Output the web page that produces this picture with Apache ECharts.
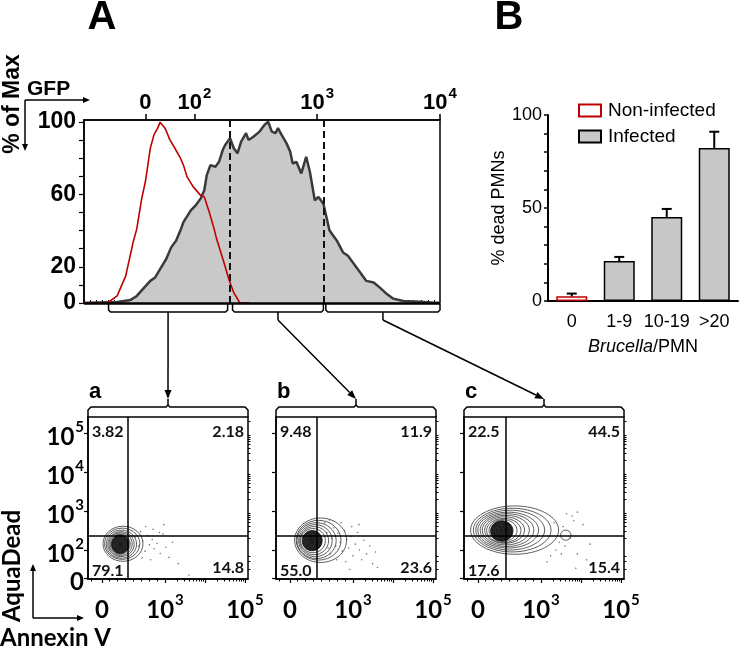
<!DOCTYPE html>
<html><head><meta charset="utf-8">
<script src="https://cdn.jsdelivr.net/npm/echarts@6/dist/echarts.min.js"></script>
<style>html,body{margin:0;padding:0;background:#fff}#c{width:744px;height:648px}</style>
</head><body><div id="c"></div>
<script>
// ================= DATA =================
// Panel A histogram: x in display decades (log10 GFP), y in % of max
const gfpNonInfected = [[1.12,0],[1.29,0],[1.37,3.9],[1.44,15],[1.50,33.5],[1.53,40.9],[1.57,57.6],[1.60,66.9],[1.64,85.4],[1.67,92.8],[1.70,96.5],[1.72,99.8],[1.76,96.5],[1.80,90],[1.84,85.4],[1.88,80.7],[1.91,76.1],[1.94,69.6],[1.99,64.1],[2.05,59.4],[2.08,58.5],[2.12,50.2],[2.16,40.9],[2.18,35.4],[2.24,22.4],[2.28,13.1],[2.32,5.7],[2.37,0],[2.45,0]];
const gfpInfected = [[1.10,0.2],[1.13,0.2],[1.37,0.6],[1.48,1.7],[1.53,3.9],[1.59,8.5],[1.64,12.2],[1.68,14.1],[1.72,18.7],[1.77,24.3],[1.81,30.7],[1.85,34.4],[1.89,40.9],[1.91,44.6],[1.97,51.1],[2.01,53.9],[2.05,57.6],[2.08,62.2],[2.10,70.6],[2.13,76.1],[2.17,75.2],[2.20,77.9],[2.23,84.4],[2.25,87.2],[2.29,90.9],[2.32,85.4],[2.35,82.6],[2.38,89.1],[2.42,93.7],[2.44,90.0],[2.48,91.8],[2.53,94.6],[2.57,98.3],[2.60,100],[2.63,94.6],[2.66,93.7],[2.68,96.5],[2.71,92.8],[2.75,88.1],[2.78,83.5],[2.80,77.0],[2.83,77.9],[2.87,71.5],[2.91,80.7],[2.94,72.4],[2.98,56.7],[3.01,58.5],[3.05,54.8],[3.10,40.0],[3.16,34.4],[3.21,27.9],[3.25,26.1],[3.29,22.4],[3.35,16.8],[3.40,12.2],[3.46,11.3],[3.51,8.5],[3.57,4.8],[3.62,2.4],[3.70,1.1],[3.84,0.7],[3.95,0.2],[4.0,0.1]];
const gfpGateLines = [2.29, 3.05];
const gfpGates = [[1.30, 2.27], [2.31, 3.05], [3.07, 4.0]];
const gfpTickValues = [1.6, 2, 3, 4];
const gfpTickLabels = ['0', '10^2', '10^3', '10^4'];
const pctLabelValues = [0, 20, 60, 100];
const pctTickValues = [0,10,20,30,40,50,60,70,80,90,100];

// Panel B bars
const barCategories = ['0', '1-9', '10-19', '>20'];
const nonInfectedDead = [2.5, '-', '-', '-'];
const infectedDead = ['-', 21.5, 45.2, 82.3];
const deadErrTop = [4.0, 23.7, 49.5, 91.0];
const deadLabelValues = [0, 50, 100];
const deadTickValues = [0,10,20,30,40,50,60,70,80,90,100];

// Contour panels (x: Annexin V decades, y: AquaDead decades)
const annexinTickValues = [1.425, 3, 5];
const annexinTickLabels = ['0', '10^3', '10^5'];
const aquaTickValues = [1.28, 2, 3, 4, 5];
const aquaTickLabels = ['0', '10^2', '10^3', '10^4', '10^5'];
const panelNames = ['a', 'b', 'c'];
const quadrantPct = [['3.82','2.18','79.1','14.8'], ['9.48','11.9','55.0','23.6'], ['22.5','44.5','17.6','15.4']];
const quadGateX = [2.075, 2.10, 2.125];
const quadGateY = [2.36, 2.36, 2.36];
// contour rings: [cx, cy, rx, ry, filled]
const contourA = [[1.95,2.16,0.50,0.45,0],[1.93,2.16,0.44,0.40,0],[1.91,2.15,0.38,0.36,0],[1.90,2.15,0.33,0.32,0],[1.89,2.15,0.29,0.29,0],[1.88,2.15,0.25,0.26,0],[1.88,2.15,0.22,0.24,1],[1.88,2.15,0.17,0.19,0],[1.88,2.15,0.12,0.14,0],[1.88,2.15,0.07,0.08,0]];
const contourB = [[2.19,2.25,0.65,0.57,0],[2.14,2.25,0.56,0.51,0],[2.09,2.24,0.49,0.46,0],[2.06,2.24,0.42,0.41,0],[2.03,2.24,0.36,0.36,0],[2.00,2.24,0.31,0.31,0],[1.98,2.24,0.25,0.26,1],[1.97,2.24,0.20,0.21,0],[1.97,2.24,0.15,0.16,0],[1.97,2.24,0.10,0.11,0]];
const contourC = [[2.34,2.51,1.10,0.62,0],[2.28,2.51,0.97,0.56,0],[2.23,2.51,0.86,0.51,0],[2.18,2.51,0.76,0.46,0],[2.15,2.51,0.67,0.42,0],[2.12,2.51,0.59,0.38,0],[2.09,2.51,0.50,0.34,0],[2.07,2.50,0.43,0.31,0],[2.05,2.50,0.35,0.28,0],[2.02,2.49,0.28,0.26,1],[2.01,2.49,0.21,0.20,0],[2.00,2.49,0.14,0.14,0],[2.00,2.49,0.08,0.08,0],[3.62,2.38,0.13,0.13,0]];
// outlying events
const eventsA = [[2.26,2.33],[2.34,2.10],[2.39,2.47],[2.44,2.23],[2.50,1.97],[2.56,2.37],[2.61,2.13],[2.68,2.27],[2.73,2.03],[2.80,2.17],[2.88,1.91],[2.95,2.41],[3.02,2.07],[3.10,1.81],[2.52,2.60],[2.70,2.53],[3.19,2.20],[2.43,1.80],[2.86,2.45],[3.33,1.65],[2.64,1.75],[2.97,2.65],[3.60,1.36]];
const eventsB = [[2.29,2.70],[2.35,2.45],[2.41,2.77],[2.47,2.30],[2.52,2.57],[2.57,2.10],[2.62,2.43],[2.68,2.20],[2.73,1.97],[2.79,2.50],[2.84,2.27],[2.89,2.05],[2.95,2.35],[3.00,1.85],[3.06,2.15],[3.11,2.45],[3.16,2.00],[3.22,1.75],[3.27,2.25],[3.34,1.90],[3.42,2.10],[3.49,1.65],[3.56,1.95],[3.61,1.55],[2.43,1.90],[2.59,1.75],[2.82,1.70],[2.97,2.60],[2.70,2.70],[3.15,2.65],[2.38,2.05],[2.92,1.50]];
const eventsC = [[3.64,2.93],[3.78,2.87],[3.91,2.97],[3.82,2.75],[3.37,2.00],[3.51,1.90],[3.60,2.10],[3.91,1.90],[3.87,1.53],[3.24,1.85],[3.46,2.20],[3.73,2.30],[4.05,2.65],[3.15,1.70],[4.14,1.75],[3.55,2.60],[3.33,2.70],[4.23,2.15]];

// ================= CHART =================
const contours = [contourA, contourB, contourC];
const events = [eventsA, eventsB, eventsC];
const SANS = "'Liberation Sans', Arial, sans-serif";
const CAL = "Lato, 'Open Sans', sans-serif";
const chart = echarts.init(document.getElementById('c'), null, {renderer: 'canvas', width: 744, height: 648});

function minorLog(decades, lo, hi) {
  const out = [];
  decades.forEach(d => { for (let k = 2; k <= 9; k++) { const v = d + Math.log10(k); if (v > lo && v < hi) out.push(+v.toFixed(4)); } });
  return out;
}
function supFormatter(values, labels) {
  return function (v) {
    const i = values.findIndex(t => Math.abs(t - v) < 1e-6);
    if (i < 0) return '';
    const p = labels[i].split('^');
    return p.length > 1 ? '{b|' + p[0] + '}{s|' + p[1] + '}' : '{b|' + p[0] + '}';
  };
}
function supRich(fam, fs, ss, lh) {
  return {
    b: {fontFamily: fam, fontWeight: 'bold', fontSize: fs, color: '#000', lineHeight: lh},
    s: {fontFamily: fam, fontWeight: 'bold', fontSize: ss, color: '#000', verticalAlign: 'top', lineHeight: ss - 2, padding: [0, 0, 0, 1]}
  };
}

const PANEL_LEFT = [88, 276, 464], PANEL_TOP = 417, PANEL_W = 160, PANEL_H = 162;
const XC_MIN = 1.075, XC_MAX = 5.075, YC_MIN = 1.256, YC_MAX = 5.41;

const grids = [
  {left: 84, top: 120, width: 356, height: 183, show: true, borderColor: '#000', borderWidth: 1.5, backgroundColor: 'transparent'},
  {left: 548, top: 115, width: 190, height: 186}
];
PANEL_LEFT.forEach(l => grids.push({left: l, top: PANEL_TOP, width: PANEL_W, height: PANEL_H, show: true, borderColor: '#000', borderWidth: 1.5, backgroundColor: 'transparent'}));

const xAxes = [
  {gridIndex: 0, type: 'value', min: 1.1, max: 4, position: 'top',
    axisLine: {show: true, onZero: false, lineStyle: {color: '#000', width: 1.5}},
    axisTick: {show: true, customValues: gfpTickValues, length: 6, lineStyle: {color: '#000', width: 1.5}},
    axisLabel: {customValues: gfpTickValues, formatter: supFormatter(gfpTickValues, gfpTickLabels), rich: supRich(SANS, 22, 15, 34), margin: 0},
    splitLine: {show: false}},
  {gridIndex: 0, type: 'value', min: 1.1, max: 4, position: 'top',
    axisLine: {show: false}, axisLabel: {show: false}, splitLine: {show: false},
    axisTick: {show: true, customValues: [1.15,1.2,1.25,1.3,1.35,1.4,1.45,1.5].concat(minorLog([1,2,3], 1.65, 4)), length: 3, lineStyle: {color: '#000', width: 1}}},
  {gridIndex: 1, type: 'category', data: barCategories, boundaryGap: true,
    axisLine: {lineStyle: {color: '#000', width: 2}},
    axisTick: {length: 5, lineStyle: {color: '#000', width: 2}},
    axisLabel: {interval: 0, fontFamily: SANS, fontSize: 18, color: '#000', margin: 12},
    name: '{i|Brucella}/PMN', nameLocation: 'middle', nameGap: 37,
    nameTextStyle: {fontFamily: SANS, fontSize: 18, color: '#000', rich: {i: {fontFamily: SANS, fontSize: 18, fontStyle: 'italic', color: '#000'}}}}
];
const yAxes = [
  {gridIndex: 0, type: 'value', min: 0, max: 101,
    axisLine: {show: true, lineStyle: {color: '#000', width: 1.5}},
    axisTick: {show: true, customValues: pctTickValues, length: 5, lineStyle: {color: '#000', width: 1.2}},
    axisLabel: {customValues: pctLabelValues, fontFamily: SANS, fontWeight: 'bold', fontSize: 23, color: '#000', margin: 8},
    splitLine: {show: false}},
  {gridIndex: 1, type: 'value', min: 0, max: 100,
    axisLine: {show: true, lineStyle: {color: '#000', width: 2}},
    axisTick: {show: true, customValues: deadTickValues, length: 4, lineStyle: {color: '#000', width: 1.5}},
    axisLabel: {customValues: deadLabelValues, fontFamily: SANS, fontSize: 18, color: '#000', margin: 6},
    splitLine: {show: false},
    name: '% dead PMNs', nameLocation: 'middle', nameGap: 31, nameRotate: 90,
    nameTextStyle: {fontFamily: SANS, fontSize: 18, color: '#000'}}
];
const series = [
  {type: 'line', name: 'gfpInfected', xAxisIndex: 0, yAxisIndex: 0, data: gfpInfected, showSymbol: false, symbol: 'none',
    lineStyle: {color: '#3a3a3a', width: 2.5}, areaStyle: {color: '#c9c9c9', opacity: 1}, z: 2, silent: true,
    markLine: {silent: true, symbol: 'none', label: {show: false}, animation: false,
      data: gfpGateLines.map(v => ({xAxis: v, lineStyle: {color: '#111', width: 2, type: [7, 4]}})).concat([{yAxis: 0, lineStyle: {color: '#000', width: 2.5, type: 'solid'}}])}},
  {type: 'line', name: 'gfpNonInfected', xAxisIndex: 0, yAxisIndex: 0, data: gfpNonInfected, showSymbol: false, symbol: 'none',
    lineStyle: {color: '#c00000', width: 1.6}, z: 3, silent: true},
  {type: 'custom', name: 'gates', xAxisIndex: 0, yAxisIndex: 0, data: gfpGates, clip: false, z: 5, silent: true,
    renderItem: function (params, api) {
      const a = api.coord([api.value(0), 0]);
      const b = api.coord([api.value(1), 0]);
      const y0 = a[1] + 1, y1 = a[1] + 9, cx = (a[0] + b[0]) / 2;
      return {type: 'group', children: [
        {type: 'polyline', shape: {points: [[a[0], y0], [a[0], y1 - 2], [a[0] + 2, y1], [b[0] - 2, y1], [b[0], y1 - 2], [b[0], y0]]}, style: {stroke: '#000', fill: 'none', lineWidth: 1.5}},
        {type: 'line', shape: {x1: cx, y1: y1, x2: cx, y2: y1 + 8}, style: {stroke: '#000', lineWidth: 1.5}}
      ]};
    }},
  {type: 'bar', name: 'Non-infected', xAxisIndex: 2, yAxisIndex: 1, data: nonInfectedDead, barWidth: 31, barGap: '-100%',
    itemStyle: {color: '#ffffff', borderColor: '#c00000', borderWidth: 1.5}, silent: true},
  {type: 'bar', name: 'Infected', xAxisIndex: 2, yAxisIndex: 1, data: infectedDead, barWidth: 31, barGap: '-100%',
    itemStyle: {color: '#c8c8c8', borderColor: '#000', borderWidth: 1.5}, silent: true},
  {type: 'custom', name: 'err', xAxisIndex: 2, yAxisIndex: 1, z: 4, silent: true,
    data: deadErrTop.map((e, i) => [i, (nonInfectedDead[i] === '-' ? infectedDead[i] : nonInfectedDead[i]), e]),
    renderItem: function (params, api) {
      const base = api.coord([api.value(0), api.value(1)]);
      const top = api.coord([api.value(0), api.value(2)]);
      return {type: 'group', children: [
        {type: 'line', shape: {x1: base[0], y1: base[1], x2: top[0], y2: top[1]}, style: {stroke: '#000', lineWidth: 2}},
        {type: 'line', shape: {x1: top[0] - 5, y1: top[1], x2: top[0] + 5, y2: top[1]}, style: {stroke: '#000', lineWidth: 2}}
      ]};
    }}
];

const xMinorC = [1.15, 1.6, 1.8, 2.0, 2.2, 2.4, 2.6, 2.8].concat(minorLog([3, 4, 5], 3, XC_MAX));
const yMinorC = [1.5, 1.7, 1.85].concat(minorLog([2, 3, 4, 5], 2, YC_MAX));
for (let i = 0; i < 3; i++) {
  const gi = 2 + i;
  const xi = xAxes.length, yi = yAxes.length;
  xAxes.push({gridIndex: gi, type: 'value', min: XC_MIN, max: XC_MAX, position: 'bottom',
    axisLine: {show: true, onZero: false, lineStyle: {color: '#000', width: 1.5}},
    axisTick: {show: true, customValues: [1.425, 3, 4, 5], length: 4, lineStyle: {color: '#000', width: 1.2}},
    axisLabel: {customValues: annexinTickValues, formatter: supFormatter(annexinTickValues, annexinTickLabels), rich: supRich(CAL, 24, 15, 34), margin: 14},
    splitLine: {show: false}});
  xAxes.push({gridIndex: gi, type: 'value', min: XC_MIN, max: XC_MAX, position: 'bottom',
    axisLine: {show: false}, axisLabel: {show: false}, splitLine: {show: false},
    axisTick: {show: true, customValues: xMinorC, length: 2.5, lineStyle: {color: '#000', width: 1}}});
  yAxes.push({gridIndex: gi, type: 'value', min: YC_MIN, max: YC_MAX,
    axisLine: {show: true, onZero: false, lineStyle: {color: '#000', width: 1.5}},
    axisTick: {show: true, customValues: aquaTickValues, length: 4, lineStyle: {color: '#000', width: 1.2}},
    axisLabel: {show: i === 0, customValues: aquaTickValues, formatter: supFormatter(aquaTickValues, aquaTickLabels), rich: supRich(CAL, 24, 15, 34), margin: 4, padding: [8, 0, 0, 0]},
    splitLine: {show: false}});
  yAxes.push({gridIndex: gi, type: 'value', min: YC_MIN, max: YC_MAX,
    axisLine: {show: false}, axisLabel: {show: false}, splitLine: {show: false},
    axisTick: {show: true, customValues: yMinorC, length: 2.5, lineStyle: {color: '#000', width: 1}}});
  series.push({type: 'custom', name: 'rings' + i, xAxisIndex: xi, yAxisIndex: yi, data: contours[i], clip: true, silent: true, z: 3,
    renderItem: function (params, api) {
      const c = api.coord([api.value(0), api.value(1)]);
      const s = api.size([api.value(2), api.value(3)]);
      const filled = api.value(4) > 0;
      return {type: 'ellipse', shape: {cx: c[0], cy: c[1], rx: s[0], ry: s[1]},
        style: {fill: filled ? '#1c1c1c' : 'none', stroke: filled ? '#111' : '#333', lineWidth: 0.8}};
    }});
  series.push({type: 'scatter', name: 'events' + i, xAxisIndex: xi, yAxisIndex: yi, data: events[i], symbolSize: 1.6, silent: true,
    itemStyle: {color: '#555'}, z: 2,
    markLine: {silent: true, symbol: 'none', label: {show: false}, animation: false,
      lineStyle: {color: '#000', width: 1.5, type: 'solid'},
      data: [{xAxis: quadGateX[i]}, {yAxis: quadGateY[i]}]}});
  series.push({type: 'custom', name: 'quad' + i, xAxisIndex: xi, yAxisIndex: yi, silent: true, z: 6,
    data: quadrantPct[i].map((t, k) => [k]),
    renderItem: (function (pi) {
      return function (params, api) {
        const cs = params.coordSys;
        const k = params.dataIndex;
        const left = k % 2 === 0;
        const top = k < 2;
        return {type: 'text', x: left ? cs.x + 4 : cs.x + cs.width - 4, y: top ? cs.y + 15 : cs.y + cs.height - (left ? 8 : 11),
          style: {text: quadrantPct[pi][k], fill: '#111', fontFamily: CAL, fontWeight: 'bold', fontSize: 16,
            align: left ? 'left' : 'right', verticalAlign: 'middle'}};
      };
    })(i)});
}

chart.setOption({
  animation: false,
  backgroundColor: '#fff',
  grid: grids, xAxis: xAxes, yAxis: yAxes, series: series,
  legend: {data: ['Non-infected', 'Infected'], orient: 'vertical', left: 573, top: 96, itemWidth: 22, itemHeight: 12, itemGap: 7,
    icon: 'rect', textStyle: {fontFamily: SANS, fontSize: 19, color: '#000', padding: [0, 0, 0, 2]}, selectedMode: false}
});

// ---------- annotations ----------
function arrow(x1, y1, x2, y2, head, w) {
  head = head || 8; w = w || 3.5;
  const ang = Math.atan2(y2 - y1, x2 - x1);
  const bx = x2 - head * Math.cos(ang), by = y2 - head * Math.sin(ang);
  const px = -Math.sin(ang) * w, py = Math.cos(ang) * w;
  return [
    {type: 'line', shape: {x1: x1, y1: y1, x2: bx, y2: by}, style: {stroke: '#000', lineWidth: 1.5}},
    {type: 'polygon', shape: {points: [[x2, y2], [bx + px, by + py], [bx - px, by - py]]}, style: {fill: '#000'}}
  ];
}
const els = [];
els.push({type: 'text', x: 102, y: 18, style: {text: 'A', fontFamily: SANS, fontWeight: 'bold', fontSize: 40, fill: '#000', align: 'center', verticalAlign: 'middle'}});
els.push({type: 'text', x: 509, y: 18, style: {text: 'B', fontFamily: SANS, fontWeight: 'bold', fontSize: 40, fill: '#000', align: 'center', verticalAlign: 'middle'}});
els.push({type: 'text', x: 27, y: 89, style: {text: 'GFP', fontFamily: SANS, fontWeight: 'bold', fontSize: 21, fill: '#000', align: 'left', verticalAlign: 'middle'}});
els.push({type: 'text', x: 13, y: 104, rotation: Math.PI / 2, style: {text: '% of Max', fontFamily: SANS, fontWeight: 'bold', fontSize: 23, fill: '#000', align: 'center', verticalAlign: 'middle'}});
arrow(25, 100, 90, 100, 7, 3).forEach(e => els.push(e));
arrow(25, 100, 25, 151, 7, 3).forEach(e => els.push(e));
els.push({type: 'text', x: 12, y: 566, rotation: Math.PI / 2, style: {text: 'AquaDead', fontFamily: CAL, fontWeight: 'bold', fontSize: 24, fill: '#000', align: 'center', verticalAlign: 'middle'}});
els.push({type: 'text', x: 0, y: 638, style: {text: 'Annexin V', fontFamily: CAL, fontWeight: 'bold', fontSize: 24, fill: '#000', align: 'left', verticalAlign: 'middle'}});
arrow(33, 618, 33, 564, 7, 3).forEach(e => els.push(e));
arrow(33, 618, 84, 618, 7, 3).forEach(e => els.push(e));
// panel letters and brackets
PANEL_LEFT.forEach((l, i) => {
  const r = l + PANEL_W, cx = l + PANEL_W / 2, yb = PANEL_TOP - 10;
  els.push({type: 'text', x: l + 1, y: 392, style: {text: panelNames[i], fontFamily: SANS, fontWeight: 'bold', fontSize: 22, fill: '#000', align: 'left', verticalAlign: 'middle'}});
  els.push({type: 'polyline', shape: {points: [[l, PANEL_TOP], [l, yb + 3], [l + 3, yb], [cx - 2, yb], [cx, yb - 2], [cx, yb - 8]]}, style: {stroke: '#000', fill: 'none', lineWidth: 1.5}});
  els.push({type: 'polyline', shape: {points: [[cx, yb - 2], [cx + 2, yb], [r - 3, yb], [r, yb + 3], [r, PANEL_TOP]]}, style: {stroke: '#000', fill: 'none', lineWidth: 1.5}});
});
// connectors from gate stems to panels
gfpGates.forEach((g, i) => {
  const p = chart.convertToPixel({xAxisIndex: 0, yAxisIndex: 0}, [(g[0] + g[1]) / 2, 0]);
  const sx = p[0], sy = p[1] + 17;
  const tx = PANEL_LEFT[i] + PANEL_W / 2, ty = PANEL_TOP - 18;
  arrow(sx, sy, tx, ty, 9, 3.5).forEach(e => els.push(e));
});
chart.setOption({graphic: {elements: els.map((e, i) => Object.assign({id: 'g' + i, silent: true}, e))}});
</script></body></html>
